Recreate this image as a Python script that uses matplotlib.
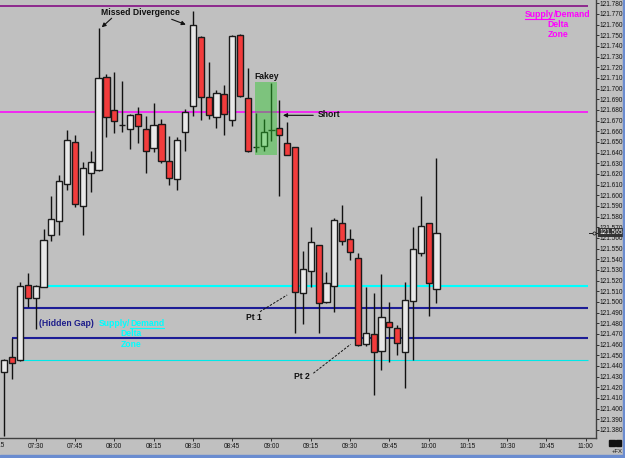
import matplotlib
matplotlib.use("Agg")
import matplotlib.pyplot as plt
import matplotlib.transforms as mtransforms
from matplotlib.lines import Line2D
from matplotlib.patches import Rectangle
from matplotlib.ticker import FuncFormatter, MultipleLocator

plt.rcParams["font.family"] = ["Liberation Sans", "DejaVu Sans"]

# 3-minute bars, USDJPY-style quotes
times = [
    "07:18", "07:21", "07:24", "07:27", "07:30", "07:33", "07:36", "07:39",
    "07:42", "07:45", "07:48", "07:51", "07:54", "07:57", "08:00", "08:03",
    "08:06", "08:09", "08:12", "08:15", "08:18", "08:21", "08:24", "08:27",
    "08:30", "08:33", "08:36", "08:39", "08:42", "08:45", "08:48", "08:51",
    "08:54", "08:57", "09:00", "09:03", "09:06", "09:09", "09:12", "09:15",
    "09:18", "09:21", "09:24", "09:27", "09:30", "09:33", "09:36", "09:39",
    "09:42", "09:45", "09:48", "09:51", "09:54", "09:57", "10:00", "10:03",
]
opens = [
    121.434, 121.448, 121.446, 121.516, 121.504, 121.514, 121.563, 121.576,
    121.611, 121.650, 121.590, 121.621, 121.624, 121.711, 121.680, 121.666,
    121.662, 121.676, 121.662, 121.644, 121.667, 121.632, 121.615, 121.659,
    121.684, 121.748, 121.692, 121.673, 121.695, 121.671, 121.750, 121.691,
    121.645, 121.646, 121.661, 121.663, 121.649, 121.645, 121.508, 121.529,
    121.553, 121.500, 121.515, 121.574, 121.559, 121.541, 121.461, 121.470,
    121.454, 121.481, 121.476, 121.453, 121.501, 121.546, 121.574, 121.512,
]
highs = [
    121.447, 121.466, 121.519, 121.527, 121.516, 121.568, 121.599, 121.619,
    121.661, 121.657, 121.631, 121.642, 121.757, 121.714, 121.716, 121.707,
    121.676, 121.683, 121.674, 121.687, 121.672, 121.656, 121.655, 121.681,
    121.773, 121.749, 121.725, 121.699, 121.703, 121.750, 121.751, 121.719,
    121.677, 121.672, 121.705, 121.689, 121.669, 121.645, 121.548, 121.570,
    121.553, 121.528, 121.579, 121.591, 121.568, 121.546, 121.514, 121.508,
    121.526, 121.500, 121.478, 121.519, 121.570, 121.599, 121.574, 121.635,
]
lows = [
    121.374, 121.428, 121.445, 121.495, 121.475, 121.514, 121.557, 121.563,
    121.605, 121.589, 121.563, 121.603, 121.623, 121.655, 121.658, 121.659,
    121.643, 121.649, 121.621, 121.641, 121.630, 121.610, 121.605, 121.642,
    121.674, 121.671, 121.672, 121.663, 121.657, 121.665, 121.692, 121.641,
    121.641, 121.642, 121.651, 121.599, 121.638, 121.471, 121.479, 121.514,
    121.471, 121.499, 121.491, 121.553, 121.539, 121.459, 121.459, 121.413,
    121.436, 121.444, 121.450, 121.419, 121.446, 121.543, 121.487, 121.499,
]
closes = [
    121.446, 121.443, 121.515, 121.504, 121.515, 121.558, 121.578, 121.613,
    121.652, 121.592, 121.626, 121.631, 121.710, 121.673, 121.670, 121.666,
    121.675, 121.665, 121.642, 121.666, 121.632, 121.616, 121.652, 121.678,
    121.760, 121.692, 121.675, 121.696, 121.676, 121.749, 121.693, 121.642,
    121.645, 121.659, 121.661, 121.657, 121.638, 121.509, 121.531, 121.556,
    121.499, 121.518, 121.577, 121.557, 121.547, 121.460, 121.471, 121.453,
    121.486, 121.477, 121.462, 121.502, 121.550, 121.571, 121.518, 121.565,
]

# horizontal zone lines: level, start time (minutes), colour, width
line_levels = [121.7775, 121.678, 121.515, 121.494, 121.466, 121.446]
line_starts = [436.4, 436.4, 454.2, 445.2, 440.8, 444.0]
line_colors = ["#800080", "#ff00ff", "#00ffff", "#1c1c96", "#1c1c96", "#00e8e8"]
line_widths = [1.1, 1.1, 1.5, 1.5, 1.5, 0.8]
line_end = 660.8

last_price = 121.565


def to_min(s):
    h, m = s.split(":")
    return int(h) * 60 + int(m)


mins = [to_min(t) for t in times]

BG = "#c0c0c0"
TICK_FS = 4.7
fig = plt.figure(figsize=(6.25, 4.58), dpi=100, facecolor=BG)
ax = fig.add_axes([0, 20 / 458, 596 / 625, 438 / 458])
ax.set_facecolor(BG)

# zone lines
for lev, x0, c, lw in zip(line_levels, line_starts, line_colors, line_widths):
    ax.plot([x0, line_end], [lev, lev], color=c, lw=lw, zorder=1, solid_capstyle="butt")

# candles
ax.vlines(mins, lows, highs, color="#111111", lw=1.0, zorder=2)
body_colors = []
for o, c in zip(opens, closes):
    if c > o:
        body_colors.append("#e8e8e8")
    elif c < o:
        body_colors.append("#f23c3c")
    else:
        body_colors.append("#111111")
heights = [c - o for o, c in zip(opens, closes)]
ax.bar(mins, heights, bottom=opens, width=2.35, color=body_colors,
       edgecolor="#1a1a1a", linewidth=1.0, zorder=3)

# fakey highlight
ax.add_patch(Rectangle((533.7, 121.6378), 8.5, 0.0687, facecolor=(40 / 255, 200 / 255, 40 / 255),
                       alpha=0.44, edgecolor="none", zorder=5))

ax.set_xlim(436.37, 663.9)
ax.set_ylim(121.3725, 121.7831)

ax.xaxis.set_major_locator(MultipleLocator(15))
ax.xaxis.set_major_formatter(FuncFormatter(lambda v, p: f"{int(round(v)) // 60:02d}:{int(round(v)) % 60:02d}"))
ax.yaxis.set_major_locator(MultipleLocator(0.01))
ax.yaxis.set_major_formatter(FuncFormatter(lambda v, p: f"{v:.3f}"))
ax.yaxis.tick_right()
ax.tick_params(axis="x", length=2, width=0.7, color="#303030", labelsize=TICK_FS, pad=1.5, labelcolor="#111111")
ax.tick_params(axis="y", length=2.2, width=0.7, color="#303030", labelsize=TICK_FS, pad=0.6, labelcolor="#111111")
for s in ["top", "left"]:
    ax.spines[s].set_visible(False)
for s in ["right", "bottom"]:
    ax.spines[s].set_color("#404040")
    ax.spines[s].set_linewidth(1.0)

# clipped first time label
bl = mtransforms.blended_transform_factory(ax.transData, ax.transAxes)
ax.text(435, -0.0085, "07:15", transform=bl, ha="center", va="top", fontsize=TICK_FS,
        color="#111111", clip_on=False)

# last price tag
br = mtransforms.blended_transform_factory(ax.transAxes, ax.transData)
ax.plot([0.988, 1.004], [last_price, last_price], color="#202020", lw=0.7, transform=br, clip_on=False, zorder=6)
ax.plot([0.996], [last_price], marker="o", ms=2.2, mfc=BG, mec="#202020", mew=0.6, transform=br,
        clip_on=False, zorder=7)
ax.text(1.0055, last_price, "121.565", transform=br, ha="left", va="center", fontsize=TICK_FS,
        color="white", zorder=8, clip_on=False,
        bbox=dict(boxstyle="square,pad=0.15", fc="#333333", ec="none"))

# annotations
ann = dict(fontweight="bold", fontsize=6.2)
ax.text(489.8, 121.771, "Missed Divergence", ha="center", va="center", color="#111111", **ann)
arrow = dict(arrowstyle="-|>", color="#111111", lw=0.8, mutation_scale=6, shrinkA=0, shrinkB=0)
ax.annotate("", xy=(475.2, 121.7575), xytext=(479.0, 121.766), arrowprops=arrow)
ax.annotate("", xy=(507.3, 121.760), xytext=(501.9, 121.765), arrowprops=arrow)

ax.text(538.2, 121.7116, "Fakey", ha="center", va="center", color="#111111", zorder=6, **ann)
ax.text(561.9, 121.6753, "Short", ha="center", va="center", color="#111111", **ann)
ax.annotate("", xy=(544.4, 121.675), xytext=(555.95, 121.675), arrowprops=arrow)

ax.text(533.3, 121.4855, "Pt 1", ha="center", va="center", color="#111111", **ann)
ax.plot([535.6, 546.0], [121.4909, 121.5066], color="#111111", lw=0.7, ls=(0, (2.5, 1.5)))
ax.text(551.8, 121.430, "Pt 2", ha="center", va="center", color="#111111", **ann)
ax.plot([556.0, 570.2], [121.4332, 121.4603], color="#111111", lw=0.7, ls=(0, (2.5, 1.5)))

ax.text(461.9, 121.4797, "(Hidden Gap)", ha="center", va="center", color="#1c1c8a", **ann)
ax.text(486.0, 121.4797, "Supply/", ha="right", va="center", color="#00ffff", **ann)
t_demand = ax.text(486.0, 121.4797, "Demand", ha="left", va="center", color="#00ffff", **ann)
ax.text(486.4, 121.4702, "Delta", ha="center", va="center", color="#00ffff", **ann)
ax.text(486.4, 121.4602, "Zone", ha="center", va="center", color="#00ffff", **ann)

t_supply = ax.text(647.7, 121.7693, "Supply", ha="right", va="center", color="#ff00ff", **ann)
ax.text(647.7, 121.7693, "/Demand", ha="left", va="center", color="#ff00ff", **ann)
ax.text(649.3, 121.760, "Delta", ha="center", va="center", color="#ff00ff", **ann)
ax.text(649.3, 121.7503, "Zone", ha="center", va="center", color="#ff00ff", **ann)

# window frame bits
fig.patches.append(Rectangle((0, 0), 1, 3 / 458, transform=fig.transFigure, color="#6a8cd0", zorder=0))
fig.patches.append(Rectangle((622.7 / 625, 0), 2.3 / 625, 1, transform=fig.transFigure, color="#6a8cd0", zorder=0))
fig.patches.append(Rectangle((609.3 / 625, 12 / 458), 5.2 / 625, 6 / 458, transform=fig.transFigure, color="#111111"))
fig.patches.append(Rectangle((616 / 625, 12 / 458), 5.2 / 625, 6 / 458, transform=fig.transFigure, color="#111111"))
fig.text(617 / 625, 6.5 / 458, "+FX", ha="center", va="center", fontsize=4.2, color="#111111")

# underline parts of the zone captions
fig.canvas.draw()
renderer = fig.canvas.get_renderer()
for txt, col in [(t_supply, "#ff00ff"), (t_demand, "#00ffff")]:
    bb = txt.get_window_extent(renderer).transformed(fig.transFigure.inverted())
    fig.add_artist(Line2D([bb.x0, bb.x1], [bb.y0 + 0.001, bb.y0 + 0.001], color=col, lw=0.8,
                          transform=fig.transFigure))

fig.savefig("out.png", dpi=100, facecolor=BG)
